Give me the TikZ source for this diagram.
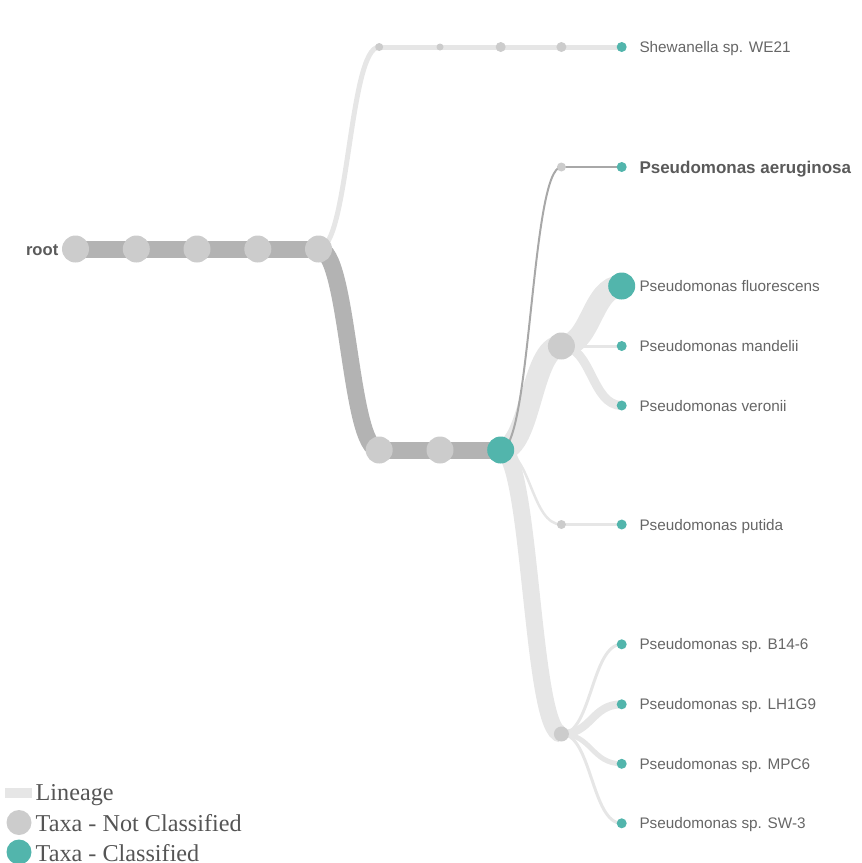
\documentclass[tikz,border=0pt]{standalone}
\usepackage{fontspec}
\setmainfont{Liberation Sans}
\newfontfamily\legfont{Liberation Serif}
\usetikzlibrary{calc}
\definecolor{ngray}{HTML}{CCCCCC}
\definecolor{dlink}{HTML}{B3B3B3}
\definecolor{llink}{HTML}{E6E6E6}
\definecolor{tlink}{HTML}{A8A8A8}
\definecolor{teal}{HTML}{52B5AC}
\definecolor{txt}{HTML}{666666}
\definecolor{txtb}{HTML}{5A5A5A}
\definecolor{legtxt}{HTML}{555555}
\pgfdeclarelayer{bg}
\pgfsetlayers{bg,main}
\newcommand\lnk[3]{\draw[#1] let \p1=(#2.center),\p2=(#3.center) in (#2.center) .. controls ({(\x1+\x2)/2},\y1) and ({(\x1+\x2)/2},\y2) .. (#3.center);}
\tikzset{
  gnode/.style={circle,fill=ngray,inner sep=0pt,minimum size=#1},
  tnode/.style={circle,fill=teal,inner sep=0pt,minimum size=#1},
  lbl/.style={anchor=base west,inner sep=0pt,text=txt,font=\fontsize{15.3}{18}\selectfont},
  dk/.style={draw=dlink,line width=17pt},
  lt/.style={draw=llink,line width=#1},
  th/.style={draw=tlink,line width=2pt},
  legtext/.style={anchor=base west,inner sep=0pt,text=legtxt,font=\legfont\fontsize{24.2}{27}\selectfont}
}
\begin{document}
\begin{tikzpicture}[x=1pt,y=-1pt]
\useasboundingbox (0,0) rectangle (862,863);
% nodes
\node[gnode=27pt] (root) at (75.5,249) {};
\node[gnode=27pt] (n1) at (136.3,249) {};
\node[gnode=27pt] (n2) at (197,249) {};
\node[gnode=27pt] (n3) at (257.8,249) {};
\node[gnode=27pt] (n4) at (318.5,249) {};
\node[gnode=27pt] (m1) at (379.2,450) {};
\node[gnode=27pt] (m2) at (440,450) {};
\node[tnode=27pt] (t) at (500.7,450) {};
\node[gnode=8pt] (s1) at (379.2,47) {};
\node[gnode=7pt] (s2) at (440,47) {};
\node[gnode=10pt] (s3) at (500.7,47) {};
\node[gnode=10pt] (s4) at (561.4,47) {};
\node[tnode=10pt] (shew) at (621.7,47) {};
\node[gnode=9pt] (a0) at (561.4,167) {};
\node[tnode=10pt] (aer) at (621.7,167) {};
\node[gnode=27pt] (f0) at (561.4,346) {};
\node[tnode=27pt] (fluor) at (621.7,286) {};
\node[tnode=10pt] (mand) at (621.7,346) {};
\node[tnode=10pt] (veron) at (621.7,405.5) {};
\node[gnode=9pt] (p0) at (561.4,524.5) {};
\node[tnode=10pt] (put) at (621.7,524.5) {};
\node[gnode=15pt] (b0) at (561.4,734) {};
\node[tnode=10pt] (b1) at (621.7,644.3) {};
\node[tnode=10pt] (b2) at (621.7,704.3) {};
\node[tnode=10pt] (b3) at (621.7,763.8) {};
\node[tnode=10pt] (b4) at (621.7,823.3) {};
% links
\begin{pgfonlayer}{bg}
\lnk{dk}{root}{n1}
\lnk{dk}{n1}{n2}
\lnk{dk}{n2}{n3}
\lnk{dk}{n3}{n4}
\lnk{dk}{n4}{m1}
\lnk{dk}{m1}{m2}
\lnk{dk}{m2}{t}
\lnk{lt=5pt}{n4}{s1}
\lnk{lt=5pt}{s1}{s2}
\lnk{lt=5pt}{s2}{s3}
\lnk{lt=5pt}{s3}{s4}
\lnk{lt=5pt}{s4}{shew}
\lnk{lt=22pt}{t}{f0}
\lnk{lt=22pt}{f0}{fluor}
\lnk{lt=3pt}{f0}{mand}
\lnk{lt=9pt}{f0}{veron}
\lnk{lt=2.5pt}{t}{p0}
\lnk{lt=2.5pt}{p0}{put}
\lnk{lt=17pt}{t}{b0}
\lnk{lt=3pt}{b0}{b1}
\lnk{lt=8pt}{b0}{b2}
\lnk{lt=5pt}{b0}{b3}
\lnk{lt=3pt}{b0}{b4}
\lnk{th}{t}{a0}
\lnk{th}{a0}{aer}
\end{pgfonlayer}
% labels
\node[anchor=base east,inner sep=0pt,text=txtb,font=\bfseries\fontsize{16.6}{19}\selectfont] (lroot) at (58.5,255) {root};
\node[lbl] (lshew) at (639.3,52.5) {Shewanella sp. WE21};
\node[lbl,text=txtb,font=\bfseries\fontsize{17}{20}\selectfont] (laer) at (639.3,173) {Pseudomonas aeruginosa};
\node[lbl] (lfluor) at (639.3,291.5) {Pseudomonas fluorescens};
\node[lbl] (lmand) at (639.3,351.5) {Pseudomonas mandelii};
\node[lbl] (lveron) at (639.3,411) {Pseudomonas veronii};
\node[lbl] (lput) at (639.3,530) {Pseudomonas putida};
\node[lbl] (lb1) at (639.3,649.8) {Pseudomonas sp. B14-6};
\node[lbl] (lb2) at (639.3,709.8) {Pseudomonas sp. LH1G9};
\node[lbl] (lb3) at (639.3,769.3) {Pseudomonas sp. MPC6};
\node[lbl] (lb4) at (639.3,828.8) {Pseudomonas sp. SW-3};
% legend
\node[fill=llink,minimum width=27pt,minimum height=10pt,inner sep=0pt] (legline) at (18.5,793) {};
\node[gnode=25pt] (legg) at (19,822.5) {};
\node[tnode=25pt] (legt) at (19,852) {};
\node[legtext] (legl1) at (35.5,800) {Lineage};
\node[legtext] (legl2) at (35.5,831) {Taxa - Not Classified};
\node[legtext] (legl3) at (35.5,861.5) {Taxa - Classified};
\end{tikzpicture}
\end{document}
